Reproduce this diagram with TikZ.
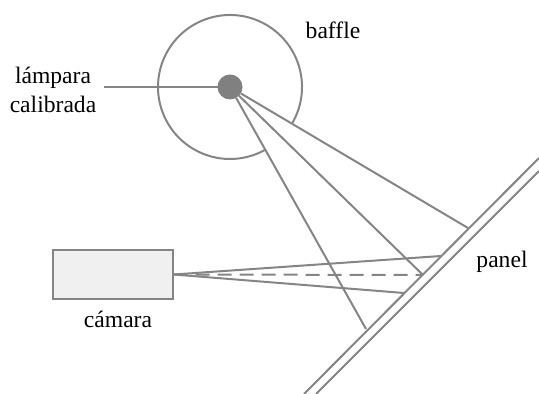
\documentclass[tikz,border=0pt]{standalone}
\usepackage{xcolor}
\definecolor{linegray}{HTML}{858585}
\definecolor{lampgray}{HTML}{808080}
\definecolor{camfill}{HTML}{F0F0F0}
\usepackage{fontspec}
\setmainfont{Liberation Serif}
\usepackage{tikz}
\usetikzlibrary{positioning}

\tikzset{
  ray/.style={draw=linegray,line width=1pt},
  lbl/.style={align=center,inner sep=0pt,font=\fontsize{11.8}{14.5}\selectfont},
}

\begin{document}
\begin{tikzpicture}[x=0.5pt,y=-0.5pt,line width=1pt]
          \useasboundingbox (0,0) rectangle (539,394);
          % baffle and lamp
          \node[circle,minimum size=72pt,inner sep=0pt,outer sep=0pt](baffle) at (230,87) {};
          \node[circle,fill=lampgray,minimum size=12.5pt,inner sep=0pt,outer sep=0pt](lamp) at (230,87) {};
          \draw[ray] (baffle.-30) arc[start angle=-30,end angle=299,radius=36pt];
          \node[lbl](lamplabel) at (53,90) {lámpara\\calibrada};
          \node[lbl](bafflelabel) at (333,30) {baffle};
          \coordinate (lampend) at (104,87);
          \draw[ray] (lampend) -- (lamp);
          % camera
          \node[rectangle,draw=linegray,fill=camfill,minimum width=60pt,minimum height=24.4pt,inner sep=0pt](camera) at (112.5,274.5) {};
          \node[lbl](cameralabel) at (118,319) {cámara};
          % panel
          \node[lbl](panellabel) at (502,262) {panel};
          \coordinate (pa) at (304,394);
          \coordinate (pb) at (539,158);
          \coordinate (pc) at (316,394);
          \coordinate (pd) at (539,171);
          \draw[ray] (pa) -- (pb);
          \draw[ray] (pc) -- (pd);
          % points on the panel
          \coordinate (hit1) at (468,228);
          \coordinate (hit2) at (423,275);
          \coordinate (hit3) at (366,329);
          \coordinate (hit4) at (441,256);
          \coordinate (hit5) at (404,293);
          \draw[ray] (lamp) -- (hit1);
          \draw[ray] (lamp) -- (hit2);
          \draw[ray] (lamp) -- (hit3);
          \draw[ray] (camera.east) -- (hit4);
          \draw[ray] (camera.east) -- (hit5);
          \draw[ray,dash pattern=on 7pt off 4pt] (camera.east) -- (hit2);
\end{tikzpicture}
\end{document}
